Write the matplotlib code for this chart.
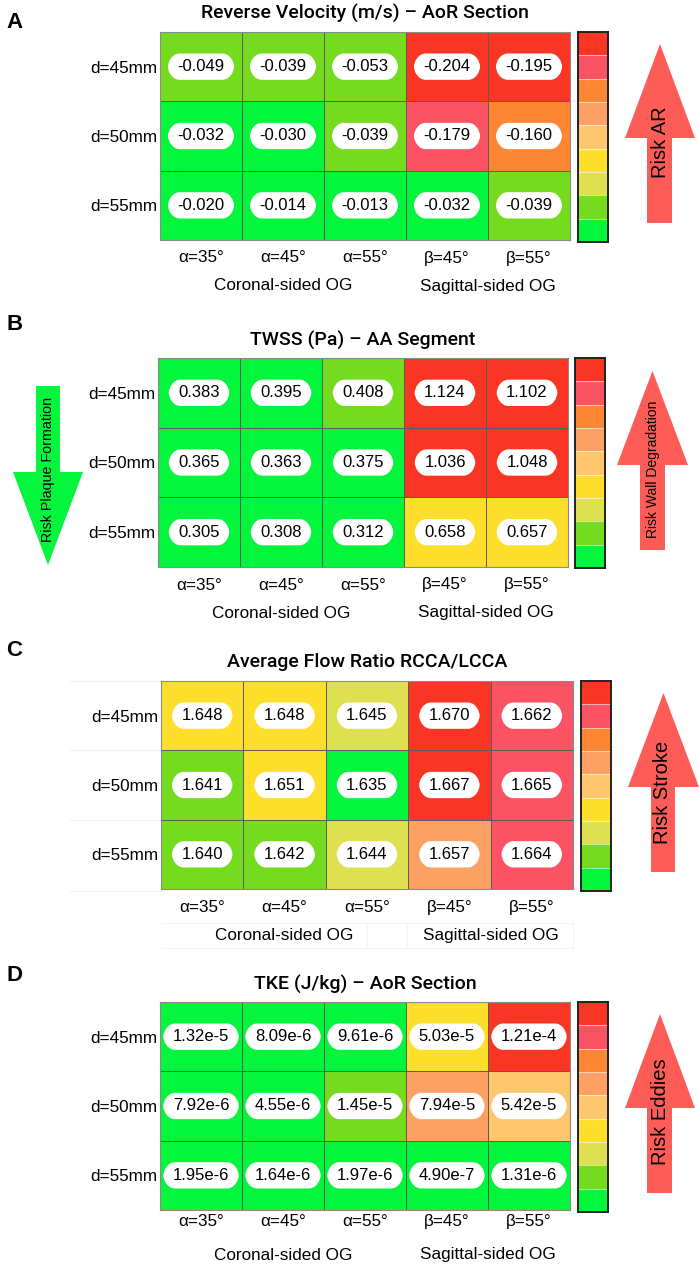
import numpy as np
import matplotlib
matplotlib.use("Agg")
import matplotlib.pyplot as plt
from matplotlib.colors import ListedColormap
from matplotlib.path import Path
from matplotlib.patches import Polygon

plt.rcParams['font.family'] = ['Liberation Sans', 'DejaVu Sans']

# ---------------- data ----------------
row_labels = ["d=45mm", "d=50mm", "d=55mm"]
col_labels = ["α=35°", "α=45°", "α=55°", "β=45°", "β=55°"]
group_labels = ["Coronal-sided OG", "Sagittal-sided OG"]
group_spans = [(0, 3), (3, 5)]

panel_letters = ["A", "B", "C", "D"]
titles = ["Reverse Velocity (m/s) – AoR Section",
          "TWSS (Pa) – AA Segment",
          "Average Flow Ratio RCCA/LCCA",
          "TKE (J/kg) – AoR Section"]
risk_labels = ["Risk AR", "Risk Wall Degradation", "Risk Stroke", "Risk Eddies"]
left_risk_label = "Risk Plaque Formation"

reverse_velocity = [[-0.049, -0.039, -0.053, -0.204, -0.195],
                    [-0.032, -0.030, -0.039, -0.179, -0.160],
                    [-0.020, -0.014, -0.013, -0.032, -0.039]]
twss = [[0.383, 0.395, 0.408, 1.124, 1.102],
        [0.365, 0.363, 0.375, 1.036, 1.048],
        [0.305, 0.308, 0.312, 0.658, 0.657]]
flow_ratio = [[1.648, 1.648, 1.645, 1.670, 1.662],
              [1.641, 1.651, 1.635, 1.667, 1.665],
              [1.640, 1.642, 1.644, 1.657, 1.664]]
tke = [[1.32e-5, 8.09e-6, 9.61e-6, 5.03e-5, 1.21e-4],
       [7.92e-6, 4.55e-6, 1.45e-5, 7.94e-5, 5.42e-5],
       [1.95e-6, 1.64e-6, 1.97e-6, 4.90e-7, 1.31e-6]]

# risk level of each cell (0 = lowest / green ... 8 = highest / red)
rv_level = [[1, 1, 1, 8, 8],
            [0, 0, 1, 7, 6],
            [0, 0, 0, 0, 1]]
twss_level = [[0, 0, 1, 8, 8],
              [0, 0, 0, 8, 8],
              [0, 0, 0, 3, 3]]
flow_level = [[3, 3, 2, 8, 7],
              [1, 3, 0, 8, 7],
              [1, 1, 2, 5, 7]]
tke_level = [[0, 0, 0, 3, 8],
             [0, 0, 1, 5, 4],
             [0, 0, 0, 0, 0]]

# ---------------- style ----------------
risk_colors = ["#03F53C", "#74DB1E", "#DFE04F", "#FDDE2A", "#FEC76E",
               "#FDA064", "#FD8633", "#FB5264", "#FB3523"]
cmap = ListedColormap(risk_colors)
ARROW_RED = "#FE5D57"
ARROW_GREEN = "#03F53C"


def fmt_fixed(v):
    return f"{v:.3f}"


def fmt_sci(v):
    e = int(np.floor(np.log10(abs(v))))
    m = v / 10 ** e
    return f"{m:.2f}e{e}"


def label_box(x0, y0, width, height, mutation_size):
    padx = 0.57 * mutation_size
    pady = 0.34 * mutation_size
    xl, xr = x0 - padx, x0 + width + padx
    yb, yt = y0 - pady, y0 + height + pady
    h = yt - yb
    ym = 0.5 * (yb + yt)
    c = 0.45 * h
    verts = [(xl + c, yb), (xr - c, yb),
             (xr - c * 0.35, yb), (xr, ym - h * 0.18), (xr, ym),
             (xr, ym + h * 0.18), (xr - c * 0.35, yt), (xr - c, yt),
             (xl + c, yt),
             (xl + c * 0.35, yt), (xl, ym + h * 0.18), (xl, ym),
             (xl, ym - h * 0.18), (xl + c * 0.35, yb), (xl + c, yb),
             (xl + c, yb)]
    codes = ([Path.MOVETO, Path.LINETO] + [Path.CURVE4] * 6 + [Path.LINETO]
             + [Path.CURVE4] * 6 + [Path.CLOSEPOLY])
    return Path(verts, codes)


datasets = [(reverse_velocity, rv_level, fmt_fixed),
            (twss, twss_level, fmt_fixed),
            (flow_ratio, flow_level, fmt_fixed),
            (tke, tke_level, fmt_sci)]

# layout in pixels (x0, y0, x1, y1), origin top-left
layout = [
    dict(hm=(160, 32, 570, 240), cb=(578, 32, 608, 242),
         arrow=(625, 647, 672, 695, 44, 138, 223), atxt=(660, 142), afs=14.5,
         xl_dy=18, grp_dy=46, title_dy=19, letter_y=23),
    dict(hm=(158, 358, 568, 567), cb=(575, 358, 605, 568),
         arrow=(617, 640, 665, 688, 371, 465, 550), atxt=(653, 469), afs=10,
         xl_dy=18, grp_dy=46, title_dy=17.6, letter_y=325),
    dict(hm=(161, 681, 573, 889), cb=(581, 681, 611, 891),
         arrow=(628, 651, 675, 699, 693, 787, 872), atxt=(663, 792), afs=14.5,
         xl_dy=18.5, grp_dy=46.5, title_dy=19.3, letter_y=651),
    dict(hm=(160, 1002, 570, 1210), cb=(578, 1002, 608, 1212),
         arrow=(625, 647, 672, 695, 1014, 1108, 1193), atxt=(660, 1112), afs=14.5,
         xl_dy=11.7, grp_dy=45, title_dy=18, letter_y=975.5),
]

W, H = 699, 1268
fig = plt.figure(figsize=(W / 100, H / 100), dpi=100)

ov = fig.add_axes([0, 0, 1, 1])
ov.set_xlim(0, W)
ov.set_ylim(H, 0)
ov.axis('off')
ov.patch.set_visible(False)


def ax_px(box):
    x0, y0, x1, y1 = box
    return fig.add_axes([x0 / W, 1 - y1 / H, (x1 - x0) / W, (y1 - y0) / H])


def up_arrow(a, color):
    sl, hl, sr, hr = a[1], a[0], a[2], a[3]
    tip, base, bottom = a[4], a[5], a[6]
    pts = [(sl, bottom), (sl, base), (hl, base), ((hl + hr) / 2, tip),
           (hr, base), (sr, base), (sr, bottom)]
    ov.add_patch(Polygon(pts, closed=True, fc=color, ec='none'))


# faint artefact lines in panel C
for yy in (681, 750, 820, 891):
    ov.plot([70, 161], [yy, yy], color='#f2f2f2', lw=0.8)
for yy in (923, 948):
    ov.plot([161, 573], [yy, yy], color='#f4f4f4', lw=0.8)
for xx in (367, 407, 573):
    ov.plot([xx, xx], [923, 948], color='#f4f4f4', lw=0.8)

for k, (vals, levels, fmt) in enumerate(datasets):
    L = layout[k]
    vals = np.asarray(vals)
    levels = np.asarray(levels)
    nr, nc = vals.shape

    ax = ax_px(L['hm'])
    ax.pcolormesh(levels, cmap=cmap, vmin=-0.5, vmax=8.5,
                  edgecolors='#5c5c5c', linewidth=0.7)
    ax.set_xlim(0, nc)
    ax.set_ylim(nr, 0)
    for s in ax.spines.values():
        s.set_color('#8a8a8a')
        s.set_linewidth(0.8)
    ax.set_yticks(np.arange(nr) + 0.5, row_labels, fontsize=12.3)
    ax.set_xticks(np.arange(nc) + 0.5, col_labels, fontsize=12.3)
    ax.tick_params(axis='y', length=0, pad=2.2)
    ax.tick_params(axis='x', length=0, pad=L['xl_dy'] * 0.72)
    for t in ax.get_xticklabels():
        t.set_va('center')

    for i in range(nr):
        for j in range(nc):
            ax.text(j + 0.5, i + 0.5, fmt(vals[i, j]), ha='center', va='center',
                    fontsize=12, color='black',
                    bbox=dict(boxstyle=label_box, fc='white', ec='none'))

    for g, (a0, a1) in zip(group_labels, group_spans):
        ax.annotate(g, xy=((a0 + a1) / 2, 0), xycoords=('data', 'axes fraction'),
                    xytext=(0, -L['grp_dy']), textcoords='offset pixels',
                    ha='center', va='center', fontsize=12.3)

    ax.annotate(titles[k], xy=(0.5, 1), xycoords='axes fraction',
                xytext=(0, L['title_dy']), textcoords='offset pixels',
                ha='center', va='center', fontsize=14, fontweight='medium',
                family=['Roboto', 'Liberation Sans', 'DejaVu Sans'])

    ov.text(6, L['letter_y'], panel_letters[k], ha='left', va='center',
            fontsize=16, fontweight='bold')

    # colour scale
    cb = ax_px(L['cb'])
    cb.pcolormesh(np.arange(len(risk_colors)).reshape(-1, 1), cmap=cmap,
                  vmin=-0.5, vmax=8.5)
    cb.set_xlim(0, 1)
    cb.set_ylim(0, len(risk_colors))
    cb.hlines(np.arange(1, len(risk_colors)), 0, 1, color='white', lw=0.8,
              alpha=0.55)
    cb.set_xticks([])
    cb.set_yticks([])
    for s in cb.spines.values():
        s.set_color('#222222')
        s.set_linewidth(1.4)

    up_arrow(L['arrow'], ARROW_RED)
    ov.text(L['atxt'][0], L['atxt'][1], risk_labels[k], rotation=90,
            ha='center', va='center', fontsize=L['afs'], color='black')

# green downward arrow of panel B
pts = [(36, 386), (36, 472), (13, 472), (48, 565), (83, 472), (60, 472), (60, 386)]
ov.add_patch(Polygon(pts, closed=True, fc=ARROW_GREEN, ec='none'))
ov.text(48, 469, left_risk_label, rotation=90, ha='center', va='center',
        fontsize=10.3, color='black')

fig.savefig("out.png", dpi=100)
